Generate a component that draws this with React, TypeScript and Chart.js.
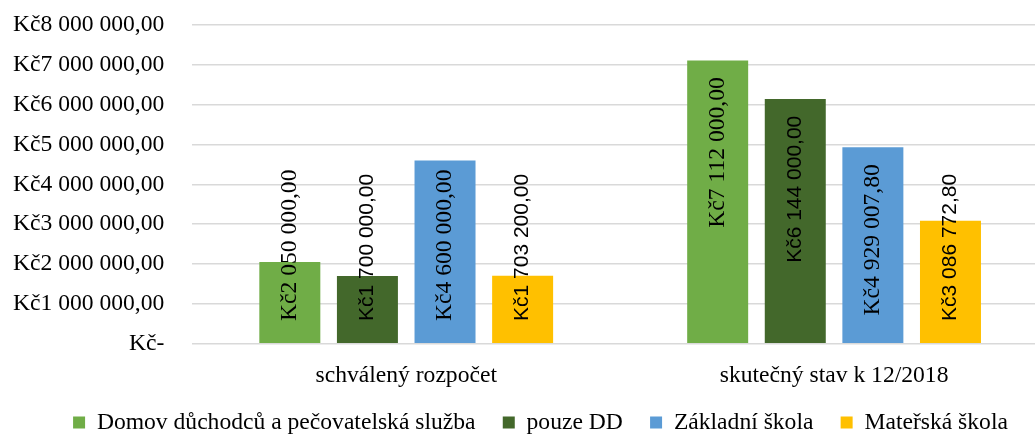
import React, { useEffect, useRef } from "react";
import { Chart, registerables } from "chart.js";

Chart.register(...registerables);

// ---- data ----
const categories = ["schválený rozpočet", "skutečný stav k 12/2018"];
const seriesNames = [
  "Domov důchodců a pečovatelská služba",
  "pouze DD",
  "Základní škola",
  "Mateřská škola",
];
const domovValues = [2050000, 7112000];
const pouzeDDValues = [1700000, 6144000];
const zakladniValues = [4600000, 4929007.8];
const materskaValues = [1703200, 3086772.8];
const yTickValues = [0, 1000000, 2000000, 3000000, 4000000, 5000000, 6000000, 7000000, 8000000];
const yTickLabels = [
  "Kč-",
  "Kč1 000 000,00",
  "Kč2 000 000,00",
  "Kč3 000 000,00",
  "Kč4 000 000,00",
  "Kč5 000 000,00",
  "Kč6 000 000,00",
  "Kč7 000 000,00",
  "Kč8 000 000,00",
];

// ---- styles ----
const SERIF = "'Liberation Serif', 'Times New Roman', serif";
const SANS = "'Liberation Sans', Arial, sans-serif";
const seriesColors = ["#70AD47", "#43682B", "#5B9BD5", "#FFC000"];
const labelFonts = [
  `23.6px ${SERIF}`,
  `21px ${SANS}`,
  `23.6px ${SERIF}`,
  `21px ${SANS}`,
];

function formatKc(v: number): string {
  const fixed = v.toFixed(2);
  const [intPart, dec] = fixed.split(".");
  const grouped = intPart.replace(/\B(?=(\d{3})+(?!\d))/g, " ");
  return "Kč" + grouped + "," + dec;
}

const barLabelPlugin = {
  id: "barLabels",
  afterDatasetsDraw(chart: any) {
    const ctx = chart.ctx;
    chart.data.datasets.forEach((ds: any, di: number) => {
      const meta = chart.getDatasetMeta(di);
      meta.data.forEach((bar: any, i: number) => {
        const v = ds.data[i];
        const text = formatKc(v);
        ctx.save();
        ctx.font = labelFonts[di];
        const w = ctx.measureText(text).width;
        const { x, y, base } = bar.getProps(["x", "y", "base"], true);
        let start = y + 16.8 + w;
        const limit = base - 22;
        if (start > limit) start = limit;
        ctx.translate(x, start);
        ctx.rotate(-Math.PI / 2);
        ctx.textAlign = "left";
        ctx.textBaseline = "middle";
        ctx.fillStyle = "#000";
        ctx.fillText(text, 0, 0);
        ctx.restore();
      });
    });
  },
};

// moves the legend box after layout so it sits where the reference has it
const legendShiftPlugin = {
  id: "legendShift",
  afterLayout(chart: any) {
    const lg = chart.legend;
    if (!lg) return;
    const dx = 11.5;
    const dy = -10.2;
    lg.left += dx;
    lg.right += dx;
    lg.top += dy;
    lg.bottom = chart.height;
  },
};

export default function App() {
  const canvasRef = useRef<HTMLCanvasElement | null>(null);

  useEffect(() => {
    if (!canvasRef.current) return;
    const seriesValues = [domovValues, pouzeDDValues, zakladniValues, materskaValues];
    const chart = new Chart(canvasRef.current, {
      type: "bar",
      data: {
        labels: categories,
        datasets: seriesNames.map((name, i) => ({
          label: name,
          data: seriesValues[i],
          backgroundColor: seriesColors[i],
          borderWidth: 0,
          categoryPercentage: 0.7255,
          barPercentage: 0.786,
        })),
      },
      options: {
        responsive: false,
        animation: false,
        events: [],
        layout: { padding: { left: 10, top: 25, right: 0, bottom: 0 } },
        plugins: {
          tooltip: { enabled: false },
          title: { display: false },
          legend: {
            position: "bottom",
            maxHeight: 41.3,
            labels: {
              boxWidth: 12,
              boxHeight: 12,
              padding: 27.2,
              color: "#000",
              font: { family: SERIF, size: 23.6 },
            },
          },
        },
        scales: {
          x: {
            grid: { display: false, drawTicks: false },
            border: { display: false },
            ticks: {
              padding: 18.1,
              color: "#000",
              font: { family: SERIF, size: 23.6 },
            },
            afterFit: (scale: any) => {
              scale.height = 50;
            },
          },
          y: {
            min: 0,
            max: 8000000,
            grid: {
              color: "#d9d9d9",
              lineWidth: 1.5,
              drawTicks: true,
              tickLength: 25,
              tickColor: "rgba(0,0,0,0)",
            },
            border: { display: false },
            ticks: {
              stepSize: 1000000,
              padding: 3,
              color: "#000",
              font: { family: SERIF, size: 23.6 },
              callback: (value: any) => {
                const idx = yTickValues.indexOf(Number(value));
                return idx >= 0 ? yTickLabels[idx] : "";
              },
            },
            afterFit: (scale: any) => {
              scale.width = 182.3;
            },
          },
        },
      },
      plugins: [barLabelPlugin, legendShiftPlugin],
    });
    return () => chart.destroy();
  }, []);

  return (
    <div
      style={{
        position: "fixed",
        left: 0,
        top: 0,
        width: 1035,
        height: 435,
        overflow: "hidden",
        background: "#fff",
      }}
    >
      <canvas ref={canvasRef} width={1048} height={435} style={{ display: "block" }} />
    </div>
  );
}
